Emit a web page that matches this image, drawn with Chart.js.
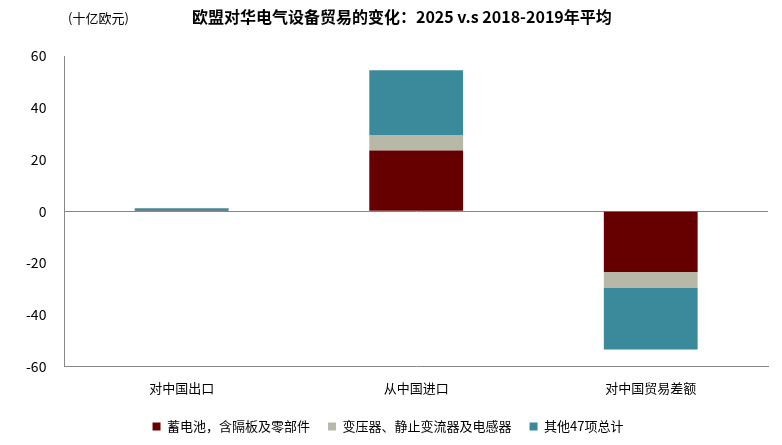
<!DOCTYPE html>
<html>
<head>
<meta charset="utf-8">
<script src="https://cdn.jsdelivr.net/npm/chart.js@4"></script>
<style>
  body { margin: 0; background: #fff; font-family: 'Noto Sans CJK SC', sans-serif; }
  #wrap { position: relative; width: 782px; height: 445px; }
  #title { position: absolute; left: 0; top: 4px; width: 782px; text-align: center; font-size: 16px; font-weight: bold; color: #000; }
  #unit { position: absolute; left: 68px; top: 8px; font-size: 13px; color: #000; }
  canvas { position: absolute; left: 0; top: 0; }
</style>
</head>
<body>
<div id="wrap">
  <canvas id="c" width="782" height="445"></canvas>
  <div id="unit">(十亿欧元)</div>
  <div id="title">&nbsp;&nbsp;&nbsp;&nbsp;&nbsp;&nbsp;欧盟对华电气设备贸易的变化：2025 v.s 2018-2019年平均</div>
</div>
<script>
const categories = ['对中国出口', '从中国进口', '对中国贸易差额'];
const seriesNames = ['蓄电池，含隔板及零部件', '变压器、静止变流器及电感器', '其他47项总计'];
const batteries = [0.1, 23.5, -23.5];
const transformers = [0.1, 6, -6];
const others = [0.9, 25, -24];
const yTicks = [-60, -40, -20, 0, 20, 40, 60];
const colors = ['#660000', '#b8b8a8', '#3a8a9c'];

Chart.defaults.font.family = "'Noto Sans CJK SC', sans-serif";
Chart.defaults.color = '#000';

new Chart(document.getElementById('c'), {
  type: 'bar',
  data: {
    labels: categories,
    datasets: [batteries, transformers, others].map((d, i) => ({
      label: seriesNames[i],
      data: d,
      backgroundColor: colors[i],
      barPercentage: 0.4,
      categoryPercentage: 1
    }))
  },
  options: {
    responsive: false,
    animation: false,
    layout: { padding: { top: 56, right: 14, left: 8, bottom: 2 } },
    plugins: {
      legend: {
        position: 'bottom',
        labels: { boxWidth: 8, boxHeight: 8, font: { size: 13 }, padding: 18 }
      },
      tooltip: { enabled: false }
    },
    scales: {
      x: {
        stacked: true,
        grid: { display: false },
        border: { color: '#888' },
        ticks: { font: { size: 13 }, padding: 6 }
      },
      y: {
        stacked: true,
        min: -60, max: 60,
        afterBuildTicks: s => { s.ticks = yTicks.map(v => ({ value: v })); },
        grid: {
          drawOnChartArea: true,
          color: ctx => ctx.tick && ctx.tick.value === 0 ? '#888' : 'transparent',
          drawTicks: false
        },
        border: { color: '#888' },
        ticks: { font: { size: 14 }, padding: 18 }
      }
    }
  }
});
</script>
</body>
</html>
